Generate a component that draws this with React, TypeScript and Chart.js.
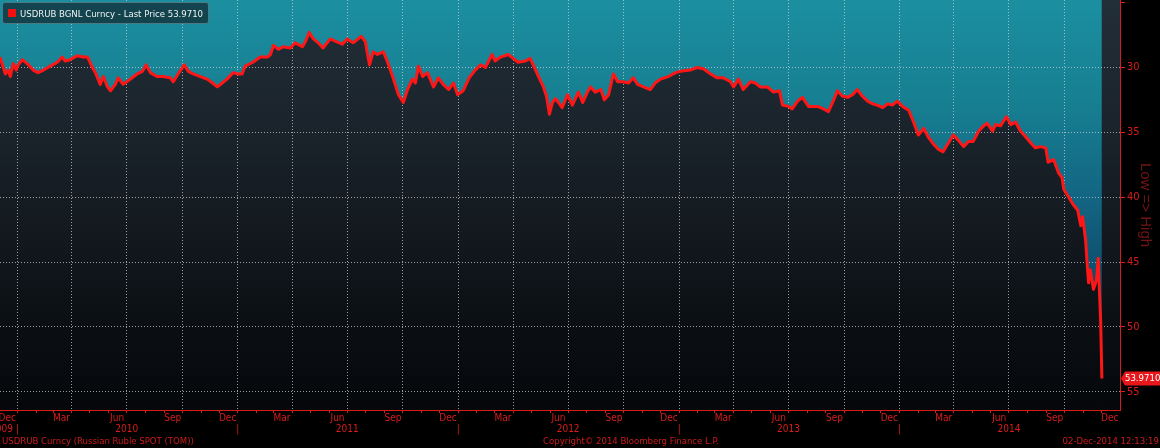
import React, { useEffect, useRef } from "react";
import { Chart, registerables } from "chart.js";

// ---------------- data ----------------
const dates: string[] = [
  "2009-12-03","2009-12-12","2009-12-17","2009-12-20","2009-12-25","2009-12-30",
  "2010-01-02","2010-01-09","2010-01-17","2010-01-27","2010-02-04","2010-02-13","2010-02-24",
  "2010-03-08","2010-03-16","2010-03-21","2010-03-29","2010-04-10","2010-04-20","2010-04-27",
  "2010-05-05","2010-05-10","2010-05-18","2010-05-23","2010-05-30","2010-06-04","2010-06-12",
  "2010-06-17","2010-06-25","2010-07-07","2010-07-18","2010-07-27","2010-08-02","2010-08-09",
  "2010-08-20","2010-08-30","2010-09-11","2010-09-16","2010-09-24","2010-10-04","2010-10-11",
  "2010-10-19","2010-10-31","2010-11-11","2010-11-20","2010-11-28","2010-12-06","2010-12-14",
  "2010-12-24",
  "2011-01-02","2011-01-08","2011-01-13","2011-01-26","2011-02-07","2011-02-19","2011-02-24",
  "2011-03-01","2011-03-09","2011-03-17","2011-03-29","2011-04-06","2011-04-18","2011-04-23",
  "2011-04-29","2011-05-06","2011-05-14","2011-05-22","2011-06-03","2011-06-13","2011-06-23",
  "2011-07-01","2011-07-11","2011-07-24","2011-07-31","2011-08-07","2011-08-13","2011-08-20",
  "2011-08-30","2011-09-06","2011-09-15","2011-09-24","2011-10-02","2011-10-09","2011-10-17",
  "2011-10-22","2011-10-27","2011-11-03","2011-11-11","2011-11-21","2011-11-29","2011-12-07",
  "2011-12-16","2011-12-24","2011-12-31",
  "2012-01-09","2012-01-19","2012-01-29","2012-02-07","2012-02-15","2012-02-26","2012-03-02",
  "2012-03-11","2012-03-24","2012-04-01","2012-04-09","2012-04-21","2012-04-29","2012-05-06",
  "2012-05-13","2012-05-21","2012-05-26","2012-05-31","2012-06-05","2012-06-10","2012-06-15",
  "2012-06-21","2012-06-30","2012-07-08","2012-07-18","2012-07-25","2012-08-02","2012-08-07",
  "2012-08-15","2012-08-24","2012-08-30","2012-09-06","2012-09-14","2012-09-21","2012-09-30",
  "2012-10-09","2012-10-17","2012-10-24","2012-11-03","2012-11-14","2012-11-22","2012-12-01",
  "2012-12-14","2012-12-26",
  "2013-01-03","2013-01-19","2013-01-31","2013-02-10","2013-02-22","2013-03-05","2013-03-15",
  "2013-03-27","2013-04-01","2013-04-09","2013-04-17","2013-04-29","2013-05-07","2013-05-15",
  "2013-05-27","2013-06-06","2013-06-16","2013-06-21","2013-07-01","2013-07-07","2013-07-16",
  "2013-07-24","2013-08-03","2013-08-18","2013-08-28","2013-09-05","2013-09-13","2013-09-20",
  "2013-09-28","2013-10-07","2013-10-15","2013-10-23","2013-10-31","2013-11-09","2013-11-17",
  "2013-11-25","2013-12-04","2013-12-12","2013-12-20","2013-12-28",
  "2014-01-06","2014-01-16","2014-01-24","2014-02-01","2014-02-10","2014-02-18","2014-02-26",
  "2014-03-06","2014-03-14","2014-03-23","2014-03-31","2014-04-08","2014-04-17","2014-04-25",
  "2014-05-03","2014-05-12","2014-05-20","2014-05-26","2014-06-04","2014-06-09","2014-06-17",
  "2014-06-27","2014-07-04","2014-07-12","2014-07-20","2014-07-28","2014-08-06","2014-08-14",
  "2014-08-22","2014-08-31","2014-09-04","2014-09-13","2014-09-21","2014-09-27","2014-09-30",
  "2014-10-08","2014-10-16","2014-10-23","2014-10-28","2014-10-31","2014-11-05","2014-11-08",
  "2014-11-10","2014-11-13","2014-11-16","2014-11-18","2014-11-23","2014-11-26","2014-11-28",
  "2014-11-30","2014-12-02"
];

const prices: number[] = [
  29.2,30.5,30.2,30.7,29.7,30.2,
  29.8,29.4,29.7,30.2,30.4,30.2,29.9,
  29.6,29.2,29.5,29.4,29.1,29.2,29.2,
  30.0,30.4,31.3,30.7,31.5,31.8,31.3,
  30.8,31.3,30.9,30.5,30.3,29.8,30.4,
  30.7,30.7,30.8,31.1,30.5,29.8,30.3,
  30.5,30.7,30.9,31.2,31.5,31.2,30.9,
  30.4,
  30.5,30.5,29.9,29.6,29.2,29.2,29.0,
  28.3,28.6,28.4,28.5,28.1,28.4,28.0,
  27.3,27.8,28.1,28.5,27.8,28.0,28.2,
  27.8,28.1,27.6,28.0,29.8,28.8,29.0,
  28.8,29.6,30.8,32.1,32.7,31.7,30.9,
  31.2,29.9,30.7,30.4,31.5,30.8,31.3,
  31.7,31.2,32.1,
  31.8,30.8,30.2,29.8,30.0,29.0,29.5,
  29.2,29.0,29.3,29.6,29.5,29.3,30.0,
  30.7,31.5,32.2,33.6,32.7,32.4,32.7,
  33.1,32.1,32.9,31.9,32.7,31.9,31.5,
  31.9,31.7,32.5,32.1,30.5,31.1,31.1,
  31.2,30.8,31.3,31.5,31.7,31.2,30.9,
  30.7,30.4,
  30.3,30.2,30.0,30.1,30.5,30.8,30.8,
  31.1,31.5,30.9,31.7,31.1,31.2,31.5,
  31.5,31.9,31.8,32.9,33.0,33.2,32.6,
  32.3,33.0,33.0,33.2,33.4,32.6,31.8,
  32.2,32.3,32.1,31.7,32.2,32.6,32.8,
  32.9,33.1,32.8,32.9,32.6,
  33.0,33.3,34.2,35.2,34.7,35.4,35.9,
  36.3,36.5,35.8,35.2,35.6,36.1,35.7,
  35.7,34.9,34.5,34.3,34.9,34.4,34.5,
  33.8,34.4,34.2,34.9,35.3,35.8,36.2,
  36.1,36.2,37.3,37.1,38.1,38.5,39.4,
  40.0,40.6,41.0,42.2,41.5,43.3,45.4,
  46.6,45.6,46.5,47.1,46.4,44.7,47.3,
  49.6,53.971
];

const monthLabels: Record<number, string> = { 11: "Dec", 2: "Mar", 5: "Jun", 8: "Sep" };
const yearLabels: string[] = ["2010", "2011", "2012", "2013", "2014"];
const partialYearLabel = "2009";
const yTickValues: number[] = [25, 30, 35, 40, 45, 50, 55];
const yAxisTitle = "Low => High";
const lastPriceText = "53.9710";
const legendText = "USDRUB BGNL Curncy - Last Price 53.9710";
const footerLeft = "USDRUB Curncy (Russian Ruble SPOT (TOM))";
const footerCenter = "Copyright\u00A9 2014 Bloomberg Finance L.P.";
const footerRight = "02-Dec-2014 12:13:19";

// ---------------- styling ----------------
const FONT = "'Liberation Sans Narrow', 'DejaVu Sans Condensed', 'Liberation Sans', sans-serif";
const AXIS_RED = "#d81c1c";
const LINE_RED = "#ff1616";
const GRID = "rgba(200,206,210,0.75)";

const xVals = dates.map((d) => Date.parse(d + "T00:00:00Z"));
const X_MIN = Date.UTC(2009, 11, 3);
const X_MAX = Date.UTC(2015, 0, 1);

function tealGradient(ctx: CanvasRenderingContext2D, top: number, bottom: number) {
  const g = ctx.createLinearGradient(0, top, 0, bottom);
  g.addColorStop(0, "#1b8fa0");
  g.addColorStop(0.25, "#177f92");
  g.addColorStop(0.5, "#126381");
  g.addColorStop(0.7, "#0e4a6a");
  g.addColorStop(1, "#082a44");
  return g;
}
function darkGradient(ctx: CanvasRenderingContext2D, top: number, bottom: number) {
  const g = ctx.createLinearGradient(0, top, 0, bottom);
  g.addColorStop(0, "#222e38");
  g.addColorStop(0.3, "#1b242c");
  g.addColorStop(0.7, "#0e1318");
  g.addColorStop(1, "#05070a");
  return g;
}

const bgPlugin = {
  id: "bbgBackground",
  beforeDraw(chart: any) {
    if (chart.config.options?.plugins?.bbgBackground?.enabled !== true) return;
    const { ctx, chartArea: a, scales } = chart;
    if (!a) return;
    const lastX = scales.x.getPixelForValue(xVals[xVals.length - 1]);
    ctx.save();
    ctx.fillStyle = tealGradient(ctx, a.top, a.bottom);
    ctx.fillRect(a.left, a.top, lastX - a.left, a.bottom - a.top);
    ctx.fillStyle = darkGradient(ctx, a.top, a.bottom);
    ctx.fillRect(lastX, a.top, a.right - lastX, a.bottom - a.top);
    ctx.restore();
  },
};
// register background first so it paints before the filler (drawTime beforeDraw)
Chart.register(bgPlugin as any);
Chart.register(...registerables);

const extrasPlugin = {
  id: "bbgExtras",
  afterDraw(chart: any) {
    const { ctx, scales, chartArea: a } = chart;
    const y = scales.y.getPixelForValue(prices[prices.length - 1]);
    ctx.save();
    // last price tag
    const x0 = a.right + 1;
    ctx.fillStyle = "#e8171c";
    ctx.beginPath();
    ctx.moveTo(x0, y);
    ctx.lineTo(x0 + 4, y - 7);
    ctx.lineTo(1160, y - 7);
    ctx.lineTo(1160, y + 7);
    ctx.lineTo(x0 + 4, y + 7);
    ctx.closePath();
    ctx.fill();
    ctx.fillStyle = "#ffffff";
    ctx.font = "9.5px " + FONT;
    ctx.textBaseline = "middle";
    ctx.textAlign = "left";
    ctx.fillText(lastPriceText, x0 + 4, y + 0.5);
    // partial year label at the left edge
    ctx.fillStyle = AXIS_RED;
    ctx.textAlign = "right";
    ctx.font = "10px " + FONT;
    ctx.fillText(partialYearLabel, 13, a.bottom + 19);
    ctx.restore();
  },
};

function isMonthStart(v: number) {
  return new Date(v).getUTCDate() === 1;
}
function isQuarterStart(v: number) {
  const d = new Date(v);
  return d.getUTCDate() === 1 && d.getUTCMonth() % 3 === 0;
}

export default function App() {
  const ref = useRef<HTMLCanvasElement>(null);
  useEffect(() => {
    document.body.style.margin = "0";
    document.body.style.background = "#000";
    const canvas = ref.current!;
    const chart = new Chart(canvas, {
      type: "line",
      data: {
        datasets: [
          {
            label: "USDRUB BGNL Curncy",
            data: xVals.map((x, i) => ({ x, y: prices[i] })),
            borderColor: LINE_RED,
            borderWidth: 3,
            borderJoinStyle: "round",
            pointRadius: 0,
            tension: 0,
            fill: "start",
            backgroundColor: (c: any) => {
              const a = c.chart.chartArea;
              if (!a) return "#1b242c";
              return darkGradient(c.chart.ctx, a.top, a.bottom);
            },
          },
        ],
      },
      options: {
        responsive: false,
        animation: false,
        events: [],
        layout: { padding: 0 },
        plugins: {
          legend: { display: false },
          tooltip: { enabled: false },
          filler: { drawTime: "beforeDraw" },
          bbgBackground: { enabled: true },
        } as any,
        scales: {
          x: {
            type: "linear",
            min: X_MIN,
            max: X_MAX,
            afterBuildTicks: (scale: any) => {
              const t: { value: number }[] = [];
              for (let yr = 2009; yr <= 2014; yr++) {
                for (let m = 0; m < 12; m++) {
                  const s = Date.UTC(yr, m, 1);
                  if (s >= X_MIN && s <= X_MAX) t.push({ value: s });
                  if (monthLabels[m] !== undefined) {
                    const mid = Date.UTC(yr, m, 15);
                    if (mid >= X_MIN && mid <= X_MAX) t.push({ value: mid });
                  }
                }
              }
              t.sort((p, q) => p.value - q.value);
              scale.ticks = t;
            },
            afterFit: (scale: any) => {
              scale.height = 38;
              scale.paddingLeft = 0;
              scale.paddingRight = 0;
            },
            ticks: {
              autoSkip: false,
              maxRotation: 0,
              minRotation: 0,
              padding: 0,
              color: AXIS_RED,
              font: { family: FONT, size: 10, lineHeight: 1.1 },
              callback: (v: any) => {
                const d = new Date(Number(v));
                const m = d.getUTCMonth();
                const day = d.getUTCDate();
                if (day === 15) return monthLabels[m] ?? "";
                if (day === 1 && m === 0) return ["", "|"];
                if (day === 1 && m === 6) {
                  const lbl = yearLabels.find((yl) => Number(yl) === d.getUTCFullYear());
                  return lbl ? ["", lbl] : "";
                }
                return "";
              },
            },
            grid: {
              color: (c: any) => (c.tick && isQuarterStart(c.tick.value) ? GRID : "rgba(0,0,0,0)"),
              lineWidth: 1,
              drawTicks: true,
              tickLength: 3,
              tickColor: (c: any) => (c.tick && isMonthStart(c.tick.value) ? AXIS_RED : "rgba(0,0,0,0)"),
              tickBorderDash: [],
            },
            border: { display: true, color: AXIS_RED, width: 1, dash: [1, 2] },
          },
          y: {
            type: "linear",
            position: "right",
            reverse: true,
            min: 24.8,
            max: 56.4,
            afterBuildTicks: (scale: any) => {
              scale.ticks = yTickValues.map((v) => ({ value: v }));
            },
            afterFit: (scale: any) => {
              scale.width = 40;
              scale.paddingTop = 0;
              scale.paddingBottom = 0;
            },
            ticks: {
              padding: 2,
              color: AXIS_RED,
              font: { family: FONT, size: 11 },
              callback: (v: any) => (Number(v) === 25 ? "" : String(v)),
            },
            grid: {
              color: (c: any) => (c.tick && c.tick.value !== 25 ? GRID : "rgba(0,0,0,0)"),
              lineWidth: 1,
              drawTicks: true,
              tickLength: 5,
              tickColor: AXIS_RED,
              tickBorderDash: [],
            },
            border: { display: true, color: AXIS_RED, width: 1, dash: [1, 2] },
            title: {
              display: true,
              text: yAxisTitle,
              color: "#731515",
              font: { family: "'Liberation Sans', sans-serif", size: 15 },
              padding: { top: 6, bottom: 0 },
            },
          },
        },
      },
      plugins: [extrasPlugin as any],
    } as any);
    return () => chart.destroy();
  }, []);

  const footerStyle: React.CSSProperties = {
    position: "absolute",
    top: 435,
    fontFamily: FONT,
    fontSize: 9.5,
    color: "#cc1c1c",
    whiteSpace: "nowrap",
    lineHeight: "12px",
  };

  return (
    <div style={{ position: "relative", width: 1160, height: 448, background: "#000", overflow: "hidden" }}>
      <canvas ref={ref} width={1160} height={448} style={{ display: "block", width: 1160, height: 448 }} />
      <div
        style={{
          position: "absolute",
          left: 2,
          top: 2,
          width: 207,
          height: 22,
          boxSizing: "border-box",
          background: "rgba(18,62,72,0.92)",
          border: "1px solid #4a7a84",
          borderRadius: 3,
          display: "flex",
          alignItems: "center",
          paddingLeft: 5,
          fontFamily: FONT,
          fontSize: 9.5,
          color: "#eef2f3",
          whiteSpace: "nowrap",
        }}
      >
        <span
          style={{ display: "inline-block", flexShrink: 0, width: 8, height: 8, background: "#f01010", marginRight: 4 }}
        />
        <span>{legendText}</span>
      </div>
      <div style={{ ...footerStyle, left: 2 }}>{footerLeft}</div>
      <div style={{ ...footerStyle, left: 543 }}>{footerCenter}</div>
      <div style={{ ...footerStyle, right: 1 }}>{footerRight}</div>
    </div>
  );
}
